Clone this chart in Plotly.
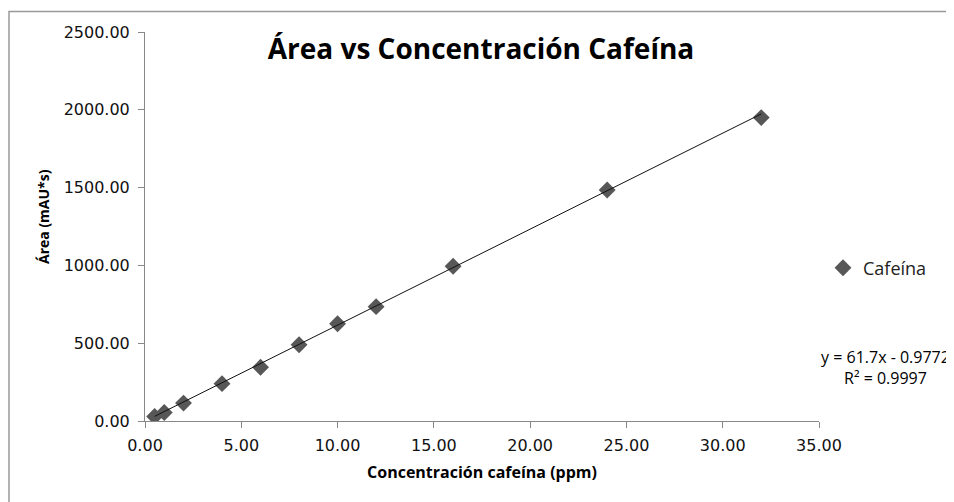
import plotly.graph_objects as go

conc_ppm = [0.5, 1, 2, 4, 6, 8, 10, 12, 16, 24, 32]
area_mau_s = [29, 55, 115, 240, 345, 490, 625, 735, 995, 1485, 1950]
series_name = "Cafeína"
slope = 61.7
intercept = -0.9772
r2 = 0.9997
x_ticks = [0, 5, 10, 15, 20, 25, 30, 35]
y_ticks = [0, 500, 1000, 1500, 2000, 2500]

trend_x = [min(conc_ppm), max(conc_ppm)]
trend_y = [slope * v + intercept for v in trend_x]

FONT = "Open Sans"
TICKFONT = "DejaVu Sans"

# page body has an 8px margin; work in screen pixels and convert
OFF = 8
SW, SH = 954, 502
W, H = SW - OFF, SH - OFF
PL, PR, PT, PB = 145, 819, 32, 421  # plot area in screen px
L = PL - OFF
T = PT - OFF
R = W - (PR - OFF)
B = H - (PB - OFF)
pw, ph = PR - PL, PB - PT


def sx(px):
    return (px - PL) / pw


def sy(py):
    return (PB - py) / ph


fig = go.Figure()
fig.add_trace(go.Scatter(
    x=conc_ppm, y=area_mau_s, mode="markers", name=series_name,
    marker=dict(symbol="diamond", size=13, color="#575757"),
))
fig.add_trace(go.Scatter(
    x=trend_x, y=trend_y, mode="lines", showlegend=False,
    line=dict(color="#111111", width=1), hoverinfo="skip",
))

fig.update_layout(
    width=W, height=H,
    margin=dict(l=L, r=R, t=T, b=B, autoexpand=False),
    paper_bgcolor="white", plot_bgcolor="white",
    font=dict(family=FONT, color="#000000", size=13),
    showlegend=True,
    legend=dict(x=sx(823), y=sy(268), xanchor="left", yanchor="middle",
                font=dict(size=18, color="#222222"), bgcolor="rgba(0,0,0,0)",
                itemwidth=30),
    xaxis=dict(range=[0, 35], tickvals=x_ticks, ticktext=[f"{v:.2f}" for v in x_ticks],
               showgrid=False, zeroline=False, showline=True, linecolor="#888888", linewidth=1,
               ticks="outside", ticklen=6, tickcolor="#888888", automargin=False,
               ticklabelstandoff=4,
               tickfont=dict(size=16, family=TICKFONT, color="#111111"),
               title=dict(text="<b>Concentración cafeína (ppm)</b>", font=dict(size=16), standoff=12)),
    yaxis=dict(range=[0, 2500], tickvals=y_ticks, ticktext=[f"{v:.2f}" for v in y_ticks],
               showgrid=False, zeroline=False, showline=True, linecolor="#888888", linewidth=1,
               ticks="outside", ticklen=6, tickcolor="#888888", automargin=False,
               ticklabelstandoff=5,
               tickfont=dict(size=16, family=TICKFONT, color="#111111")),
    title=dict(text="<b>Área vs Concentración Cafeína</b>", x=(481 - OFF) / W, xanchor="center",
               y=1 - (49 - OFF) / H, yanchor="middle", font=dict(size=28, family=FONT)),
)

# y-axis title placed as rotated annotation
fig.add_annotation(xref="paper", yref="paper", x=sx(43), y=sy(217),
                   xanchor="center", yanchor="middle", showarrow=False, textangle=-90,
                   text="<b>Área (mAU*s)</b>", font=dict(size=14, color="#000000"))

fig.add_shape(type="rect", xref="paper", yref="paper",
              x0=sx(9), x1=sx(975), y0=sy(530), y1=sy(11.5),
              line=dict(color="#999999", width=1.5), fillcolor="rgba(0,0,0,0)", layer="below")

fig.add_annotation(xref="paper", yref="paper", x=sx(885), y=sy(367),
                   xanchor="center", yanchor="middle", showarrow=False, align="center",
                   text=f"y = {slope}x - {abs(intercept)}<br>R² = {r2}",
                   font=dict(size=16, color="#000000"))

fig.write_html("out.html")
